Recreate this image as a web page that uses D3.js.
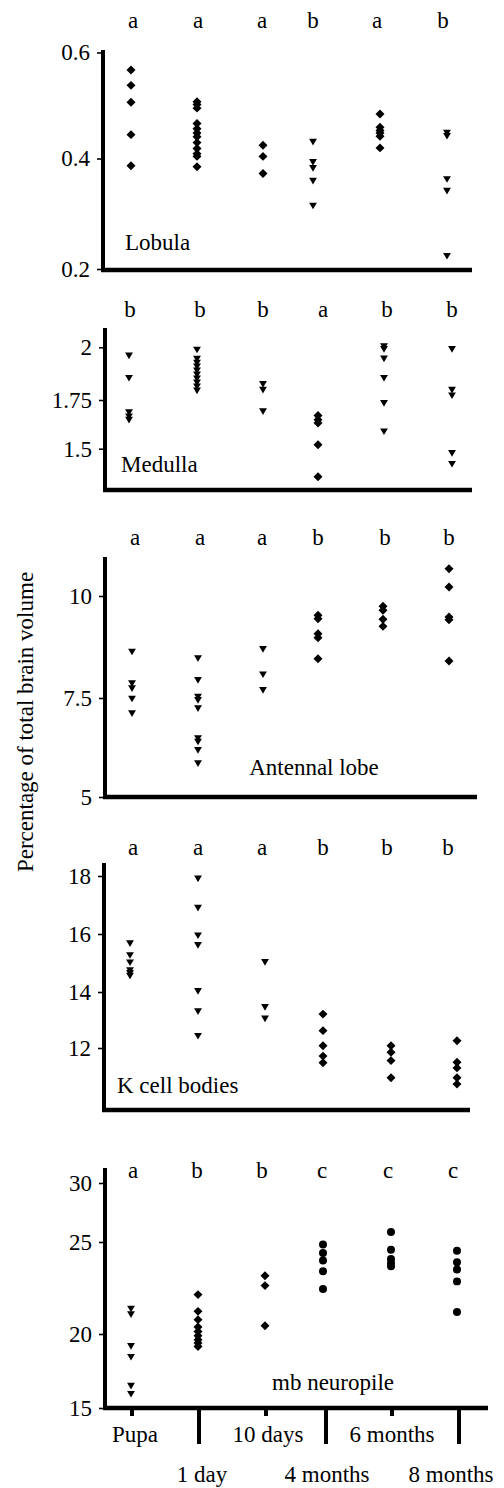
<!DOCTYPE html>
<html>
<head>
<meta charset="utf-8">
<script src="https://cdn.jsdelivr.net/npm/d3@7"></script>
<style>
  html, body { margin: 0; padding: 0; background: #fff; }
  svg { display: block; }
  svg text { font-family: 'Liberation Serif', 'DejaVu Serif', serif; }
</style>
</head>
<body>
<svg width="504" height="1488"></svg>
<script>
// groups along the x axis
const groups = ['Pupa', '1 day', '10 days', '4 months', '6 months', '8 months'];

// values per group
const lobula = [
  [0.567, 0.538, 0.506, 0.445, 0.387],
  [0.507, 0.502, 0.495, 0.466, 0.456, 0.448, 0.441, 0.43, 0.419, 0.409, 0.404, 0.385],
  [0.425, 0.404, 0.373],
  [0.431, 0.393, 0.382, 0.359, 0.314],
  [0.484, 0.459, 0.453, 0.448, 0.442, 0.42],
  [0.448, 0.442, 0.362, 0.341, 0.223]
];
const medulla = [
  [1.959, 1.853, 1.685, 1.664, 1.647],
  [1.987, 1.944, 1.925, 1.907, 1.888, 1.869, 1.85, 1.831, 1.812, 1.793],
  [1.824, 1.797, 1.69],
  [1.67, 1.649, 1.632, 1.52, 1.356],
  [2.003, 1.99, 1.945, 1.853, 1.733, 1.587],
  [1.99, 1.797, 1.77, 1.476, 1.42]
];
const antennal = [
  [8.627, 7.851, 7.729, 7.475, 7.104],
  [8.464, 7.933, 7.525, 7.44, 7.23, 6.473, 6.389, 6.178, 5.842],
  [8.69, 8.07, 7.688],
  [9.526, 9.444, 9.077, 8.979, 8.464],
  [9.747, 9.649, 9.428, 9.256],
  [10.67, 10.22, 9.485, 9.42, 8.407]
];
const kcell = [
  [15.67, 15.26, 15.01, 14.74, 14.64, 14.55],
  [17.9, 16.89, 15.94, 15.61, 14.02, 13.3, 12.42],
  [15.02, 13.45, 13.04],
  [13.21, 12.62, 12.08, 11.71, 11.47],
  [12.08, 11.85, 11.55, 10.94],
  [12.26, 11.49, 11.29, 10.94, 10.71]
];
const mb = [
  [21.36, 21.05, 19.16, 18.43, 16.48, 15.93],
  [22.14, 21.23, 20.78, 20.38, 20.14, 19.89, 19.61, 19.39, 19.16],
  [23.17, 22.63, 20.45],
  [24.86, 24.4, 23.99, 23.41, 22.45],
  [25.85, 24.58, 24.08, 23.86, 23.68],
  [24.53, 23.9, 23.5, 22.86, 21.2]
];

// significance letters
const lobulaLetters = ['a', 'a', 'a', 'b', 'a', 'b'];
const medullaLetters = ['b', 'b', 'b', 'a', 'b', 'b'];
const antennalLetters = ['a', 'a', 'a', 'b', 'b', 'b'];
const kcellLetters = ['a', 'a', 'a', 'b', 'b', 'b'];
const mbLetters = ['a', 'b', 'b', 'c', 'c', 'c'];

// tick labels
const lobulaTicks = [0.2, 0.4, 0.6];
const medullaTicks = [1.5, 1.75, 2];
const antennalTicks = [5, 7.5, 10];
const kcellTicks = [12, 14, 16, 18];
const mbTicks = [15, 20, 25, 30];

const yTitle = 'Percentage of total brain volume';

const fs = 23;

// marker shapes for d3.symbol
const diamond = {
  draw(ctx, size) {
    const r = Math.sqrt(size / 2);
    ctx.moveTo(0, -r); ctx.lineTo(r, 0); ctx.lineTo(0, r); ctx.lineTo(-r, 0); ctx.closePath();
  }
};
const triDown = {
  draw(ctx, size) {
    const w = Math.sqrt(size * 2 / 0.85), h = w * 0.85;
    ctx.moveTo(-w / 2, -h / 2); ctx.lineTo(w / 2, -h / 2); ctx.lineTo(0, h / 2); ctx.closePath();
  }
};
const shapes = {
  d: {type: diamond, size: 40},
  t: {type: triDown, size: 26},
  c: {type: d3.symbolCircle, size: 50}
};

// panel layout (pixels)
const panels = [
  {name: 'Lobula', values: lobula, letters: lobulaLetters, ticks: lobulaTicks,
   tickY: [269, 158.5, 52.5], axisX: 103, top: 50, bottom: 270, right: 472,
   dotX: [131, 197, 263, 313, 380, 447], letterX: [133, 198, 262, 313, 377, 443], letterY: 28,
   marks: ['d', 'd', 'd', 't', 'd', 't'], label: {x: 125, y: 250, anchor: 'start'}},
  {name: 'Medulla', values: medulla, letters: medullaLetters, ticks: medullaTicks,
   tickY: [448.7, 400, 347.3], axisX: 105, top: 328, bottom: 490, right: 472,
   dotX: [129, 197, 263, 318, 384, 452], letterX: [130, 200, 263, 323, 387, 452], letterY: 317,
   marks: ['t', 't', 't', 'd', 't', 't'], label: {x: 121, y: 472, anchor: 'start'}},
  {name: 'Antennal lobe', values: antennal, letters: antennalLetters, ticks: antennalTicks,
   tickY: [797, 698, 596], axisX: 105, top: 557, bottom: 797, right: 477,
   dotX: [132, 198, 263, 318, 383, 449], letterX: [135, 200, 262, 318, 385, 449], letterY: 545,
   marks: ['t', 't', 't', 'd', 'd', 'd'], label: {x: 314, y: 775, anchor: 'middle'}},
  {name: 'K cell bodies', values: kcell, letters: kcellLetters, ticks: kcellTicks,
   tickY: [1048, 992, 934, 876], axisX: 104, top: 863, bottom: 1110, right: 470,
   dotX: [130, 198, 265, 323, 391, 457], letterX: [133, 198, 262, 323, 387, 448], letterY: 855,
   marks: ['t', 't', 't', 'd', 'd', 'd'], label: {x: 117, y: 1093, anchor: 'start'}},
  {name: 'mb neuropile', values: mb, letters: mbLetters, ticks: mbTicks,
   tickY: [1408, 1334, 1242, 1183], axisX: 105, top: 1168, bottom: 1408, right: 488,
   dotX: [131, 198, 265, 323, 391, 457], letterX: [133, 197, 262, 322, 388, 453], letterY: 1178,
   marks: ['t', 'd', 'd', 'c', 'c', 'c'], label: {x: 333, y: 1390, anchor: 'middle'}}
];

const svg = d3.select('svg');
svg.append('rect').attr('width', 504).attr('height', 1488).attr('fill', '#fff');

panels.forEach((p, pi) => {
  const y = d3.scaleLinear().domain(p.ticks).range(p.tickY);
  const x = d3.scaleOrdinal(groups, p.dotX);
  const xl = d3.scaleOrdinal(groups, p.letterX);
  const g = svg.append('g');

  // y axis ticks
  g.append('g')
      .attr('transform', `translate(${p.axisX},0)`)
      .call(d3.axisLeft(y).tickValues(p.ticks).tickSize(6).tickPadding(7)
                .tickFormat(d => String(d)))
      .call(a => a.attr('font-family', null).attr('font-size', fs))
      .call(a => a.select('.domain').remove())
      .call(a => a.selectAll('line').attr('stroke', '#000').attr('stroke-width', 1.6))
      .call(a => a.selectAll('text').attr('fill', '#000'));

  // thick axis lines
  g.append('line')
      .attr('x1', p.axisX).attr('x2', p.axisX)
      .attr('y1', p.top).attr('y2', p.bottom + 2)
      .attr('stroke', '#000').attr('stroke-width', 4);
  g.append('line')
      .attr('x1', p.axisX - 2).attr('x2', p.right)
      .attr('y1', p.bottom).attr('y2', p.bottom)
      .attr('stroke', '#000').attr('stroke-width', 4.5);

  // letters
  g.append('g')
      .attr('font-size', fs)
      .attr('text-anchor', 'middle')
      .selectAll('text')
      .data(groups)
      .join('text')
      .attr('x', d => xl(d))
      .attr('y', p.letterY)
      .text((d, i) => p.letters[i]);

  // points
  const pts = groups.flatMap((grp, i) =>
      p.values[i].map(v => ({grp, v, m: p.marks[i]})));
  g.append('g')
      .selectAll('path')
      .data(pts)
      .join('path')
      .attr('transform', d => `translate(${x(d.grp)},${y(d.v)})`)
      .attr('d', d => d3.symbol(shapes[d.m].type, shapes[d.m].size)())
      .attr('fill', '#000');

  // panel name
  g.append('text')
      .attr('x', p.label.x)
      .attr('y', p.label.y)
      .attr('text-anchor', p.label.anchor)
      .attr('font-size', fs)
      .text(p.name);

  // category axis on the last panel
  if (pi === panels.length - 1) {
    const cx = d3.scaleOrdinal(groups, [132, 199, 266, 326, 392, 459]);
    g.append('g')
        .selectAll('line')
        .data(groups)
        .join('line')
        .attr('x1', d => cx(d)).attr('x2', d => cx(d))
        .attr('y1', p.bottom)
        .attr('y2', (d, i) => i % 2 ? p.bottom + 36 : p.bottom + 8)
        .attr('stroke', '#000')
        .attr('stroke-width', 4);
    const dx = [3, 3, 2, 1, 0, -8];
    g.append('g')
        .attr('font-size', fs)
        .attr('text-anchor', 'middle')
        .selectAll('text')
        .data(groups)
        .join('text')
        .attr('x', (d, i) => cx(d) + dx[i])
        .attr('y', (d, i) => i % 2 ? 1482 : 1442)
        .text(d => d);
  }
});

// shared y title
svg.append('text')
    .attr('transform', 'translate(33,722) rotate(-90)')
    .attr('text-anchor', 'middle')
    .attr('font-size', fs)
    .text(yTitle);
</script>
</body>
</html>
